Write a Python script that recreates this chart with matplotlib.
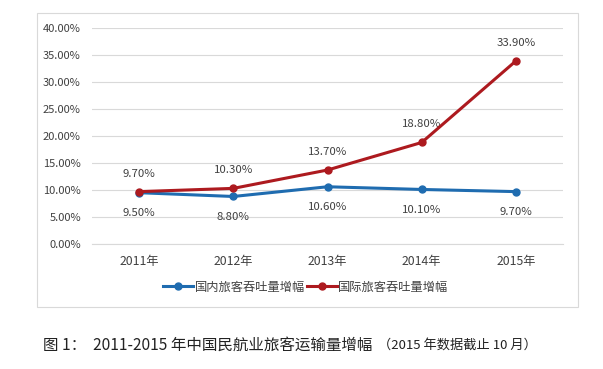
import matplotlib
matplotlib.use("Agg")
import matplotlib.pyplot as plt
import matplotlib.ticker as mtick
from matplotlib.patches import Rectangle

plt.rcParams['font.family'] = ['Noto Sans CJK SC', 'DejaVu Sans']

years = ['2011年', '2012年', '2013年', '2014年', '2015年']
domestic = [9.5, 8.8, 10.6, 10.1, 9.7]
international = [9.7, 10.3, 13.7, 18.8, 33.9]
domestic_name = '国内旅客吞吐量增幅'
international_name = '国际旅客吞吐量增幅'

blue = '#1F6CB0'
red = '#AD1A1F'
text_col = '#404040'

fig = plt.figure(figsize=(6.03, 3.69), dpi=100)

# chart frame
fig.patches.append(Rectangle((37 / 603, 1 - 307 / 369), (578 - 37) / 603, (307 - 13) / 369,
                             transform=fig.transFigure, fill=False, edgecolor='#D9D9D9', linewidth=0.8))

ax = fig.add_axes([92 / 603, 1 - 244 / 369, (563 - 92) / 603, (244 - 28) / 369])
x = list(range(len(years)))

ax.plot(x, domestic, color=blue, linewidth=2.2, marker='o', markersize=5, label=domestic_name, zorder=3)
ax.plot(x, international, color=red, linewidth=2.2, marker='o', markersize=5, label=international_name, zorder=4)

for i in x:
    ax.annotate(f"{domestic[i]:.2f}%", (i, domestic[i]), xytext=(0, -14.5), textcoords='offset points',
                ha='center', va='center', fontsize=8.2, color=text_col)
    ax.annotate(f"{international[i]:.2f}%", (i, international[i]), xytext=(0, 13), textcoords='offset points',
                ha='center', va='center', fontsize=8.2, color=text_col)

ax.set_xlim(-0.5, len(years) - 0.5)
ax.set_ylim(0, 40)
ax.set_yticks(range(0, 41, 5))
ax.yaxis.set_major_formatter(mtick.StrMethodFormatter('{x:.2f}%'))
ax.set_xticks(x)
ax.set_xticklabels(years)
ax.tick_params(axis='both', length=0, labelsize=8, labelcolor=text_col)
ax.tick_params(axis='x', pad=8, labelsize=8.8)
ax.tick_params(axis='y', pad=8)
ax.grid(axis='y', color='#D9D9D9', linewidth=0.8)
ax.set_axisbelow(True)
for s in ax.spines.values():
    s.set_visible(False)
ax.spines['bottom'].set_visible(True)
ax.spines['bottom'].set_color('#D9D9D9')

fig.legend(loc='center', bbox_to_anchor=(306 / 603, 1 - 287 / 369), ncol=2, frameon=False,
           fontsize=8.8, handlelength=2.4, columnspacing=0.2, handletextpad=0.15,
           labelcolor=text_col)

fig.text(43 / 603, 1 - 345 / 369, '图 1：  2011-2015 年中国民航业旅客运输量增幅', fontsize=11.2,
         va='center', ha='left', color='#222222')
fig.text(378 / 603, 1 - 345 / 369, '（2015 年数据截止 10 月）', fontsize=9.5,
         va='center', ha='left', color='#222222')

fig.savefig('out.png', dpi=100)
